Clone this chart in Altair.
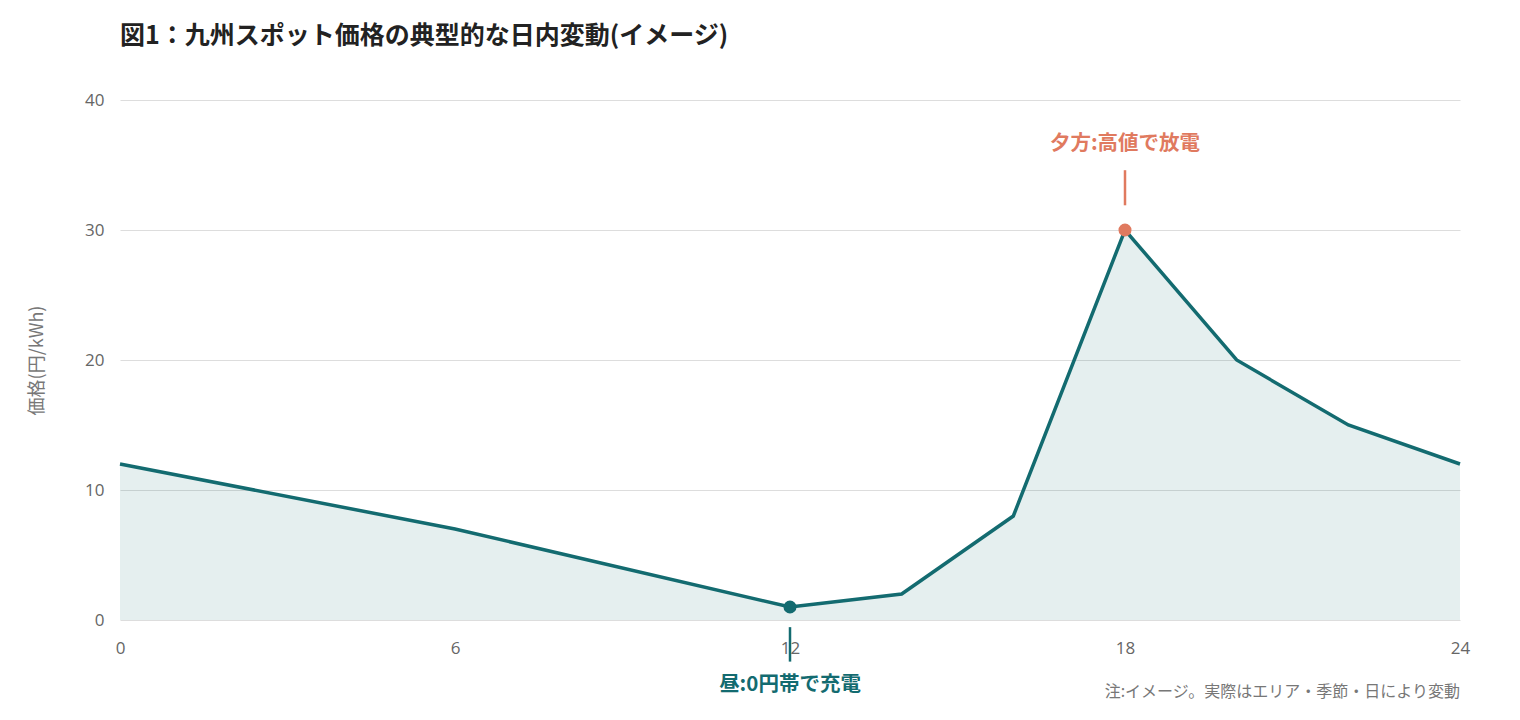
import altair as alt
import pandas as pd

hours = [0, 6, 12, 14, 16, 18, 20, 22, 24]
prices = [12, 7, 1, 2, 8, 30, 20, 15, 12]

x_ticks = [0, 6, 12, 18, 24]
y_ticks = [0, 10, 20, 30, 40]

ann_labels = ["夕方:高値で放電", "昼:0円帯で充電"]
ann_hours = [18, 12]
ann_prices = [30, 1]
ann_rule_start = [31.9, -0.55]
ann_rule_end = [34.6, -3.2]
ann_text_y = [36.6, -5.0]
ann_colors = ["#e07a5f", "#136b70"]

FONT = "Noto Sans CJK JP"
NUMFONT = "Open Sans"
TEAL = "#136b70"

df = pd.DataFrame({"hour": hours, "price": prices})
ann = pd.DataFrame({
    "label": ann_labels, "hour": ann_hours, "price": ann_prices,
    "r1": ann_rule_start, "r2": ann_rule_end, "ty": ann_text_y, "color": ann_colors,
})

xs = alt.X("hour:Q", scale=alt.Scale(domain=[0, 24], nice=False),
           axis=alt.Axis(values=x_ticks, format="d", title=None, grid=False, ticks=False, domain=False,
                         labelFontSize=17, labelColor="#666666", labelPadding=20, labelFont=NUMFONT,
                         labelAlign="center", labelFlush=False, labelBound=False))
ys = alt.Y("price:Q", scale=alt.Scale(domain=[0, 40], nice=False),
           axis=alt.Axis(values=y_ticks, title="価格(円/kWh)", ticks=False, domain=False,
                         gridColor="#dddddd", labelFontSize=17, labelColor="#666666",
                         labelPadding=16, titleFontSize=18, titleColor="#777777",
                         titleFontWeight="normal", titlePadding=38, labelFont=NUMFONT, titleFont=FONT))

base = alt.Chart(df)
area = base.mark_area(color=TEAL, opacity=0.11).encode(x=xs, y=ys)
line = base.mark_line(color=TEAL, strokeWidth=3.5).encode(x="hour:Q", y="price:Q")

annb = alt.Chart(ann)
rules = annb.mark_rule(strokeWidth=2.5, clip=False).encode(
    x="hour:Q", y="r1:Q", y2="r2", color=alt.Color("color:N", scale=None))
pts = annb.mark_point(filled=True, size=170, opacity=1, clip=False).encode(
    x="hour:Q", y="price:Q", color=alt.Color("color:N", scale=None))
texts = annb.mark_text(fontSize=20.5, fontWeight="bold", font=FONT, clip=False, baseline="middle").encode(
    x="hour:Q", y="ty:Q", text="label:N", color=alt.Color("color:N", scale=None))

note = alt.Chart(pd.DataFrame({"t": ["注:イメージ。実際はエリア・季節・日により変動"]})).mark_text(
    fontSize=16, color="#777777", font=FONT, align="right", baseline="middle", clip=False
).encode(x=alt.value(1340), y=alt.value(592), text="t:N")

chart = alt.layer(area, line, rules, pts, texts, note).properties(
    width=1340, height=520,
    title=alt.TitleParams("図1：九州スポット価格の典型的な日内変動(イメージ)", anchor="start",
                          frame="group", fontSize=25, fontWeight="bold", font=FONT,
                          color="#222222", offset=42),
    padding={"left": 112, "top": 92, "right": 52, "bottom": 90},
    autosize=alt.AutoSizeParams(type="none"),
).configure(background="white", view=alt.ViewConfig(stroke=None))

chart.save("out.html", embed_options={"renderer": "svg", "actions": False})
